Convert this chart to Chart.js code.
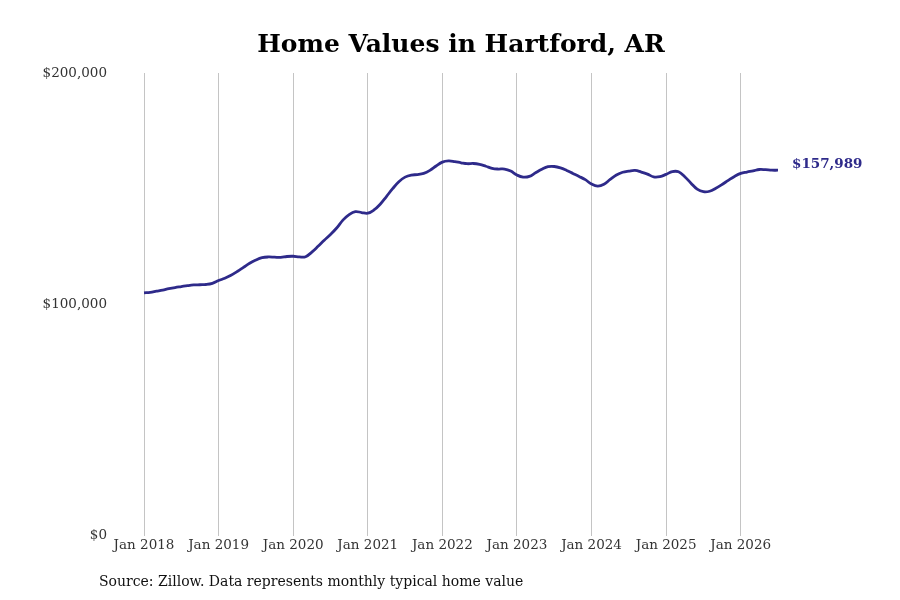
<!DOCTYPE html>
<html>
<head>
<meta charset="utf-8">
<script src="https://cdn.jsdelivr.net/npm/chart.js@4.4.1/dist/chart.umd.min.js"></script>
<style>
  html, body { margin: 0; padding: 0; background: #fff; }
  #wrap { position: relative; width: 900px; height: 600px; }
  #source { position: absolute; left: 99px; top: 573px; font: 14px "DejaVu Serif", serif; color: #111; white-space: nowrap; }
</style>
</head>
<body>
<div id="wrap">
  <canvas id="chart" width="900" height="600"></canvas>
  <div id="source">Source: Zillow. Data represents monthly typical home value</div>
</div>
<script>
const monthNames = ['Jan','Feb','Mar','Apr','May','Jun','Jul','Aug','Sep','Oct','Nov','Dec'];
const startYear = 2018;

// typical home value, monthly, Jan 2018 - Jul 2026
const values2018 = [105000, 105200, 105700, 106200, 106800, 107300, 107700, 108100, 108400, 108500, 108600, 109100];
const values2019 = [110300, 111300, 112600, 114200, 116000, 117800, 119200, 120200, 120500, 120400, 120300, 120700];
const values2020 = [120800, 120500, 120600, 122600, 125100, 127700, 130200, 133000, 136400, 138800, 140100, 139700];
const values2021 = [139400, 140800, 143300, 146600, 150000, 153000, 155000, 155900, 156100, 156600, 157900, 159800];
const values2022 = [161500, 162000, 161700, 161200, 160800, 160900, 160500, 159700, 158800, 158500, 158500, 157600];
const values2023 = [155900, 155000, 155300, 156900, 158400, 159500, 159600, 159000, 157900, 156600, 155300, 153900];
const values2024 = [152000, 151100, 151900, 154000, 155900, 157100, 157600, 157900, 157200, 156300, 155100, 155200];
const values2025 = [156200, 157400, 157300, 155200, 152400, 149800, 148700, 148900, 150200, 151800, 153600, 155300];
const values2026 = [156600, 157200, 157700, 158300, 158200, 158000, 157989];

const values = [].concat(values2018, values2019, values2020, values2021, values2022, values2023, values2024, values2025, values2026);
const months = values.map((v, i) => monthNames[i % 12] + ' ' + (startYear + Math.floor(i / 12)));
const yTicks = [0, 100000, 200000];

const lineColor = '#2e2a8a';
const serif = '"DejaVu Serif", serif';

const money = v => '$' + Math.round(v).toLocaleString('en-US');

// value label at the end of the line
const endLabel = {
  id: 'endLabel',
  afterDatasetsDraw(chart) {
    const meta = chart.getDatasetMeta(0);
    const pt = meta.data[meta.data.length - 1];
    const ctx = chart.ctx;
    ctx.save();
    ctx.font = 'bold 13.5px ' + serif;
    ctx.fillStyle = lineColor;
    ctx.textAlign = 'left';
    ctx.textBaseline = 'alphabetic';
    ctx.fillText(money(values[values.length - 1]), pt.x + 14, pt.y - 2);
    ctx.restore();
  }
};

new Chart(document.getElementById('chart'), {
  type: 'line',
  data: {
    labels: months,
    datasets: [{
      data: values,
      borderColor: lineColor,
      borderWidth: 2.8,
      pointRadius: 0,
      tension: 0.4,
      fill: false
    }]
  },
  options: {
    responsive: false,
    animation: false,
    devicePixelRatio: 1,
    layout: { padding: { left: 30, right: 122, top: 0, bottom: 44 } },
    plugins: {
      legend: { display: false },
      tooltip: { enabled: false },
      title: {
        display: true,
        fullSize: false,
        text: 'Home Values in Hartford, AR',
        color: '#000',
        font: { family: serif, size: 25, weight: 'bold' },
        padding: { top: 30, bottom: 13 }
      }
    },
    scales: {
      x: {
        border: { display: false },
        grid: {
          drawTicks: false,
          lineWidth: 1,
          color: ctx => (ctx.index % 12 === 0 ? '#c4c4c4' : 'rgba(0,0,0,0)')
        },
        ticks: {
          autoSkip: false,
          maxRotation: 0,
          padding: 2,
          color: '#333',
          font: { family: serif, size: 13.5 },
          callback: (v, i) => (i % 12 === 0 ? months[i] : '')
        }
      },
      y: {
        min: 0,
        max: 200000,
        border: { display: false },
        grid: { display: false, drawTicks: false },
        afterBuildTicks: scale => { scale.ticks = yTicks.map(v => ({ value: v })); },
        afterFit: scale => { scale.width = 114; },
        ticks: {
          padding: 37,
          color: '#333',
          font: { family: serif, size: 13.5 },
          callback: v => money(v)
        }
      }
    }
  },
  plugins: [endLabel]
});
</script>
</body>
</html>
